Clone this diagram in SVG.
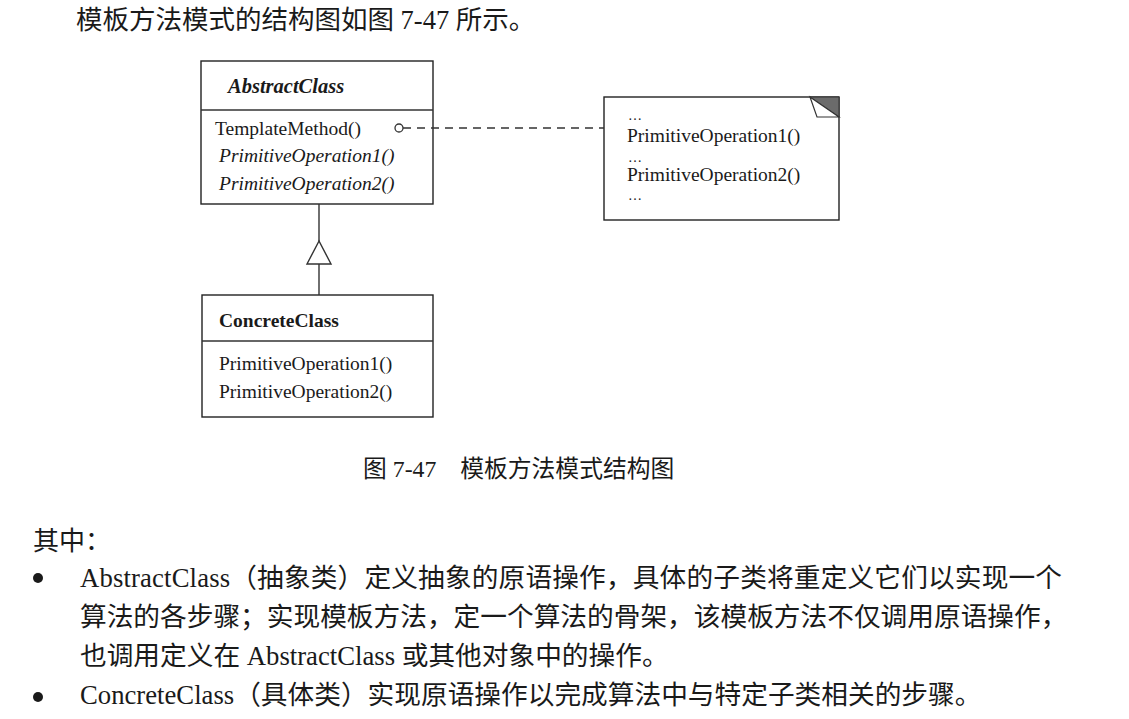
<svg xmlns="http://www.w3.org/2000/svg" width="1129" height="719" viewBox="0 0 1129 719">
<style>
.ser{font-family:"Liberation Serif","Times New Roman",serif;fill:#1a1a1a}
.cjk{font-family:"Liberation Serif","Noto Sans CJK SC",serif;fill:#1a1a1a}
.uml{font-size:19.5px}
.dots{font-size:14px}
.body{font-size:26.7px}
.box{fill:#fff;stroke:#222;stroke-width:1.4}
.ln{stroke:#333;stroke-width:1.4;fill:none}
</style>
<rect width="1129" height="719" fill="#fff"/>
<text class="cjk" x="76" y="29" font-size="26.5">模板方法模式的结构图如图 7-47 所示。</text>

<g id="abstract-class">
  <rect class="box" x="201" y="61" width="232" height="143"/>
  <line class="ln" x1="201" y1="110" x2="433" y2="110"/>
  <text class="ser" x="228" y="93" font-size="20.5" font-weight="bold" font-style="italic">AbstractClass</text>
  <text class="ser uml" x="215" y="135">TemplateMethod()</text>
  <text class="ser uml" x="219" y="162" font-style="italic">PrimitiveOperation1()</text>
  <text class="ser uml" x="219" y="190" font-style="italic">PrimitiveOperation2()</text>
</g>

<g id="note">
  <rect class="box" x="604" y="97" width="235" height="123"/>
  <polygon points="810,97 839,97 839,117" fill="#6b6b6b" stroke="#333" stroke-width="1"/>
  <polygon points="810,97 817,117 839,117" fill="#fff" stroke="#333" stroke-width="1.2"/>
  <text class="ser dots" x="628" y="120">…</text>
  <text class="ser uml" x="627" y="142">PrimitiveOperation1()</text>
  <text class="ser dots" x="628" y="162">…</text>
  <text class="ser uml" x="627" y="181">PrimitiveOperation2()</text>
  <text class="ser dots" x="628" y="200">…</text>
</g>

<g id="concrete-class">
  <rect class="box" x="202" y="295" width="231" height="122"/>
  <line class="ln" x1="202" y1="341" x2="433" y2="341"/>
  <text class="ser" x="219" y="327" font-size="19.5" font-weight="bold">ConcreteClass</text>
  <text class="ser uml" x="219" y="370">PrimitiveOperation1()</text>
  <text class="ser uml" x="219" y="398">PrimitiveOperation2()</text>
</g>

<g id="connectors">
  <circle cx="399" cy="128" r="4" fill="#fff" stroke="#333" stroke-width="1.3"/>
  <line x1="403" y1="128" x2="604" y2="128" stroke="#333" stroke-width="1.3" stroke-dasharray="8,6"/>
  <line class="ln" x1="319" y1="204" x2="319" y2="241"/>
  <polygon points="319,241 307,264 331,264" fill="#fff" stroke="#333" stroke-width="1.4"/>
  <line class="ln" x1="319" y1="264" x2="319" y2="295"/>
</g>

<text class="cjk" x="363" y="477" font-size="23.8">图 7-47　模板方法模式结构图</text>

<text class="cjk" x="33" y="550" font-size="26">其中：</text>
<circle cx="38" cy="578" r="5" fill="#1a1a1a"/>
<text class="cjk body" x="80" y="587" textLength="982" lengthAdjust="spacing">AbstractClass（抽象类）定义抽象的原语操作，具体的子类将重定义它们以实现一个</text>
<text class="cjk body" x="80" y="626">算法的各步骤；实现模板方法，定一个算法的骨架，该模板方法不仅调用原语操作，</text>
<text class="cjk body" x="80" y="665">也调用定义在 AbstractClass 或其他对象中的操作。</text>
<circle cx="38" cy="697" r="5" fill="#1a1a1a"/>
<text class="cjk body" x="80" y="704">ConcreteClass（具体类）实现原语操作以完成算法中与特定子类相关的步骤。</text>
</svg>
